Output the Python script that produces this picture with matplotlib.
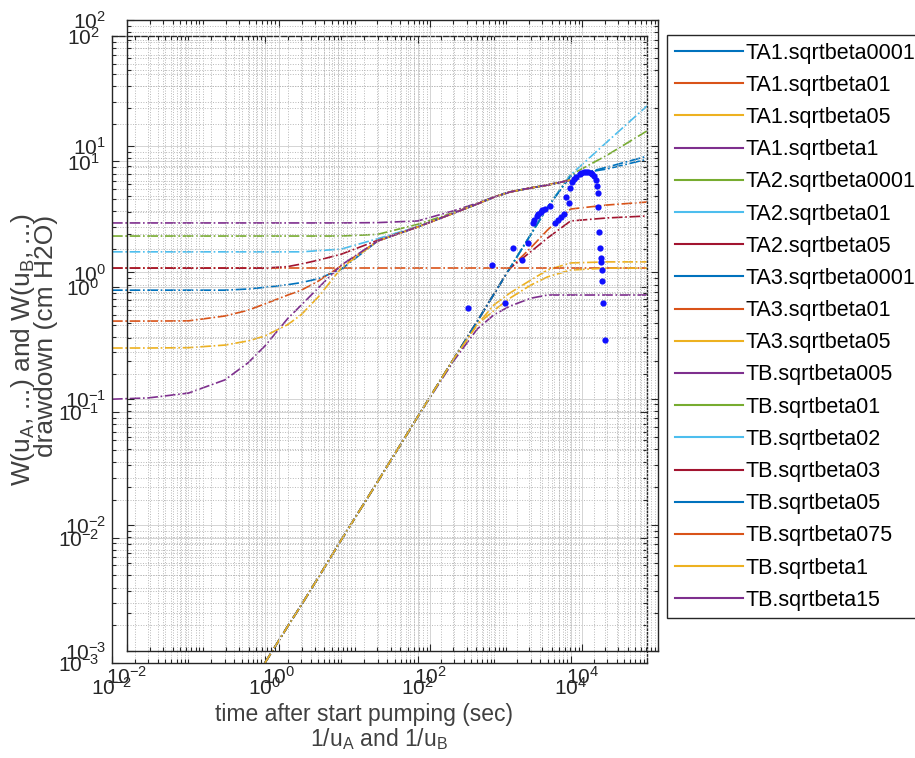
import numpy as np
import matplotlib
matplotlib.use('Agg')
import matplotlib.pyplot as plt
from matplotlib.lines import Line2D
from matplotlib.ticker import LogLocator, NullFormatter

plt.rcParams['font.family'] = ['Liberation Sans', 'DejaVu Sans']
plt.rcParams['mathtext.default'] = 'regular'

nan = np.nan

# 1/u grid shared by all type curves
x_grid = [0.01, 0.03, 0.1, 0.3, 0.6, 1, 2, 3, 5, 10, 30, 100, 300, 600, 1000, 1600,
          3000, 5000, 1e4, 3e4, 1e5]

# type A curves W(u_A, beta)
ta1_0001 = [nan, nan, nan, nan, nan, 0.001, 0.00197, 0.0029, 0.0048, 0.0096, 0.028, 0.092,
            0.27, 0.53, 0.88, 1.40, 2.6, 4.3, 7.8, 8.7, 10.4]
ta1_01 = [nan, nan, nan, nan, nan, 0.001, 0.00197, 0.0029, 0.0048, 0.0096, 0.028, 0.092,
          0.27, 0.53, 0.88, 1.40, 2.04, 2.84, 4.17, 4.49, 4.74]
ta1_05 = [nan, nan, nan, nan, nan, 0.001, 0.00197, 0.0029, 0.0048, 0.0096, 0.028, 0.092,
          0.27, 0.50, 0.72, 0.89, 1.13, 1.36, 1.55, 1.58, 1.58]
ta1_1 = [nan, nan, nan, nan, nan, 0.001, 0.00197, 0.0029, 0.0048, 0.0096, 0.028, 0.092,
         0.26, 0.46, 0.60, 0.70, 0.81, 0.86, 0.86, 0.86, 0.86]
ta2_0001 = [nan, nan, nan, nan, nan, 0.001, 0.00197, 0.0029, 0.0048, 0.0096, 0.028, 0.092,
            0.27, 0.53, 0.88, 1.40, 2.6, 4.3, 7.8, 11.2, 17.5]
ta2_01 = [nan, nan, nan, nan, nan, 0.001, 0.00197, 0.0029, 0.0048, 0.0096, 0.028, 0.092,
          0.27, 0.53, 0.88, 1.40, 2.6, 4.3, 7.8, 14.3, 27.7]
ta2_05 = [nan, nan, nan, nan, nan, 0.001, 0.00197, 0.0029, 0.0048, 0.0096, 0.028, 0.092,
          0.27, 0.53, 0.88, 1.40, 1.90, 2.45, 3.35, 3.54, 3.67]
ta3_0001 = [nan, nan, nan, nan, nan, 0.001, 0.00197, 0.0029, 0.0048, 0.0096, 0.028, 0.092,
            0.27, 0.53, 0.88, 1.40, 2.6, 4.3, 7.6, 9.0, 11.0]
ta3_01 = [1.41, 1.41, 1.41, 1.41, 1.41, 1.41, 1.41, 1.41, 1.41, 1.41, 1.41, 1.41,
          1.41, 1.41, 1.41, 1.41, 1.41, 1.41, 1.41, 1.41, 1.41]
ta3_05 = [nan, nan, nan, nan, nan, 0.001, 0.00197, 0.0029, 0.0048, 0.0096, 0.028, 0.092,
          0.27, 0.50, 0.65, 0.81, 1.03, 1.20, 1.36, 1.41, 1.41]

# type B curves W(u_B, beta)
tb_005 = [3.23, 3.23, 3.23, 3.23, 3.23, 3.23, 3.23, 3.23, 3.23, 3.23, 3.25, 3.35,
          4.05, 4.65, 5.2, 5.7, 6.14, 6.48, 7.1, nan, nan]
tb_01 = [2.54, 2.54, 2.54, 2.54, 2.54, 2.54, 2.54, 2.54, 2.54, 2.54, 2.62, 3.15,
         3.92, 4.58, 5.2, 5.7, 6.14, 6.48, 7.1, nan, nan]
tb_02 = [1.90, 1.90, 1.90, 1.90, 1.90, 1.90, 1.90, 1.90, 1.94, 2.0, 2.42, 3.02,
         3.88, 4.57, 5.2, 5.7, 6.14, 6.48, 7.1, nan, nan]
tb_03 = [1.41, 1.41, 1.41, 1.41, 1.41, 1.41, 1.45, 1.52, 1.63, 1.82, 2.35, 3.0,
         3.88, 4.57, 5.2, 5.7, 6.14, 6.48, 7.1, nan, nan]
tb_05 = [0.94, 0.94, 0.94, 0.94, 0.96, 0.99, 1.04, 1.08, 1.16, 1.38, 2.32, 3.0,
         3.88, 4.57, 5.2, 5.7, 6.14, 6.48, 7.1, nan, nan]
tb_075 = [0.533, 0.533, 0.535, 0.585, 0.65, 0.73, 0.86, 0.94, 1.11, 1.47, 2.32, 3.0,
          3.88, 4.57, 5.2, 5.7, 6.14, 6.48, 7.1, nan, nan]
tb_1 = [0.325, 0.325, 0.327, 0.343, 0.37, 0.405, 0.50, 0.60, 0.83, 1.41, 2.32, 3.0,
        3.88, 4.57, 5.2, 5.7, 6.14, 6.48, 7.1, nan, nan]
tb_15 = [0.127, 0.130, 0.142, 0.181, 0.247, 0.337, 0.56, 0.716, 0.98, 1.49, 2.32, 3.0,
         3.88, 4.57, 5.2, 5.7, 6.14, 6.48, 7.1, nan, nan]

curve_names = ['TA1.sqrtbeta0001', 'TA1.sqrtbeta01', 'TA1.sqrtbeta05', 'TA1.sqrtbeta1',
               'TA2.sqrtbeta0001', 'TA2.sqrtbeta01', 'TA2.sqrtbeta05',
               'TA3.sqrtbeta0001', 'TA3.sqrtbeta01', 'TA3.sqrtbeta05',
               'TB.sqrtbeta005', 'TB.sqrtbeta01', 'TB.sqrtbeta02', 'TB.sqrtbeta03',
               'TB.sqrtbeta05', 'TB.sqrtbeta075', 'TB.sqrtbeta1', 'TB.sqrtbeta15']
curves = [ta1_0001, ta1_01, ta1_05, ta1_1, ta2_0001, ta2_01, ta2_05,
          ta3_0001, ta3_01, ta3_05, tb_005, tb_01, tb_02, tb_03, tb_05, tb_075, tb_1, tb_15]

# measured drawdown
time_s = [309, 640, 950, 1210, 1590, 1910, 2220, 2350, 2510, 2650, 2830, 3000, 3200, 3720,
          4330, 4740, 5190, 5690, 6040, 6620, 6820, 7250, 7710, 8190, 9250, 9700, 10430,
          11100, 11780, 12900, 13500, 14130, 15000, 15500, 15960, 15960, 16450, 16950,
          17470, 17470, 18020, 18020, 18570, 19730]
drawdown = [0.522, 1.145, 0.573, 1.56, 1.25, 1.71, 2.46, 2.6, 2.80, 2.9, 3.01, 3.1, 3.18, 3.36,
            2.46, 2.60, 2.75, 2.90, 3.96, 3.55, 4.67, 5.20, 5.50, 5.70, 6.03, 6.15, 6.25,
            6.3, 6.25, 6.14, 6.0, 5.80, 5.40, 4.84, 4.26, 3.30, 2.09, 1.56,
            1.30, 1.21, 1.045, 0.855, 0.573, 0.291]

# MATLAB default colour order
matlab_colors = ['#0072BD', '#D95319', '#EDB120', '#7E2F8E', '#77AC30', '#4DBEEE', '#A2142F']

W, H = 915, 758
fig = plt.figure(figsize=(W / 100, H / 100), dpi=100)

# type curve axes and data axes, slightly offset as in the original overlay
axB = fig.add_axes([112 / W, 1 - 663 / H, 535 / W, 627 / H])
axA = fig.add_axes([127 / W, 1 - 651 / H, 531 / W, 631 / H])
axA.set_facecolor('none')


def style_axes(ax, xpad, ypad):
    ax.set_xscale('log')
    ax.set_yscale('log')
    ax.set_xlim(1e-2, 1e5)
    ax.set_ylim(1e-3, 1e2)
    ax.set_xticks([1e-2, 1e0, 1e2, 1e4])
    ax.set_yticks([1e-3, 1e-2, 1e-1, 1e0, 1e1, 1e2])
    ax.xaxis.set_minor_locator(LogLocator(base=10, subs=np.arange(1, 10), numticks=100))
    ax.yaxis.set_minor_locator(LogLocator(base=10, subs=np.arange(2, 10), numticks=100))
    ax.xaxis.set_minor_formatter(NullFormatter())
    ax.yaxis.set_minor_formatter(NullFormatter())
    ax.tick_params(which='both', direction='in', top=True, right=True,
                   labelsize=15, colors='#262626', width=0.8)
    ax.tick_params(which='major', length=5)
    ax.tick_params(which='minor', length=3)
    ax.tick_params(axis='x', which='major', pad=xpad)
    ax.tick_params(axis='y', which='major', pad=ypad)
    ax.grid(True, which='major', color='#d4d4d4', lw=0.7, ls='-')
    ax.grid(True, which='minor', color='#b8b8b8', lw=0.7, ls=':')
    ax.set_axisbelow(True)
    for sp in ax.spines.values():
        sp.set_color('#262626')
        sp.set_linewidth(1.0)


style_axes(axB, 10, 9)
style_axes(axA, 11, 15)
axB.spines['top'].set_linestyle('--')
axB.spines['right'].set_linestyle(':')

for i, (name, y) in enumerate(zip(curve_names, curves)):
    axB.plot(x_grid, y, ls='-.', lw=1.2, color=matlab_colors[i % 7])

axA.plot(time_s, drawdown, ls='none', marker='o', ms=4.5, mec='none', color='#1010ff')

axB.set_xlabel(r'1/u$_A$ and 1/u$_B$', fontsize=16.5, color='#404040')
axB.set_ylabel(r'W(u$_A$, ...) and W(u$_B$, ...)', fontsize=19, color='#404040')
axA.set_xlabel('time after start pumping (sec)', fontsize=16.5, color='#404040')
axA.set_ylabel('drawdown (cm H2O)', fontsize=19, color='#404040')
axB.xaxis.set_label_coords(0.5, -0.10)
axB.yaxis.set_label_coords(-0.14, 0.5)
axA.xaxis.set_label_coords(0.446, -0.083)
axA.yaxis.set_label_coords(-0.13, 0.5)

handles = [Line2D([], [], color=matlab_colors[i % 7], lw=1.5) for i in range(len(curve_names))]
leg = axB.legend(handles, curve_names, loc='upper left', bbox_to_anchor=(667 / W, 1 - 35 / H),
                 bbox_transform=fig.transFigure, fontsize=15.5, frameon=True, fancybox=False,
                 edgecolor='#262626', framealpha=1, borderpad=0.35, labelspacing=0.52,
                 handlelength=3.2, handletextpad=0.1, borderaxespad=0)
leg.get_frame().set_linewidth(1.0)

fig.savefig('out.png', dpi=100)
